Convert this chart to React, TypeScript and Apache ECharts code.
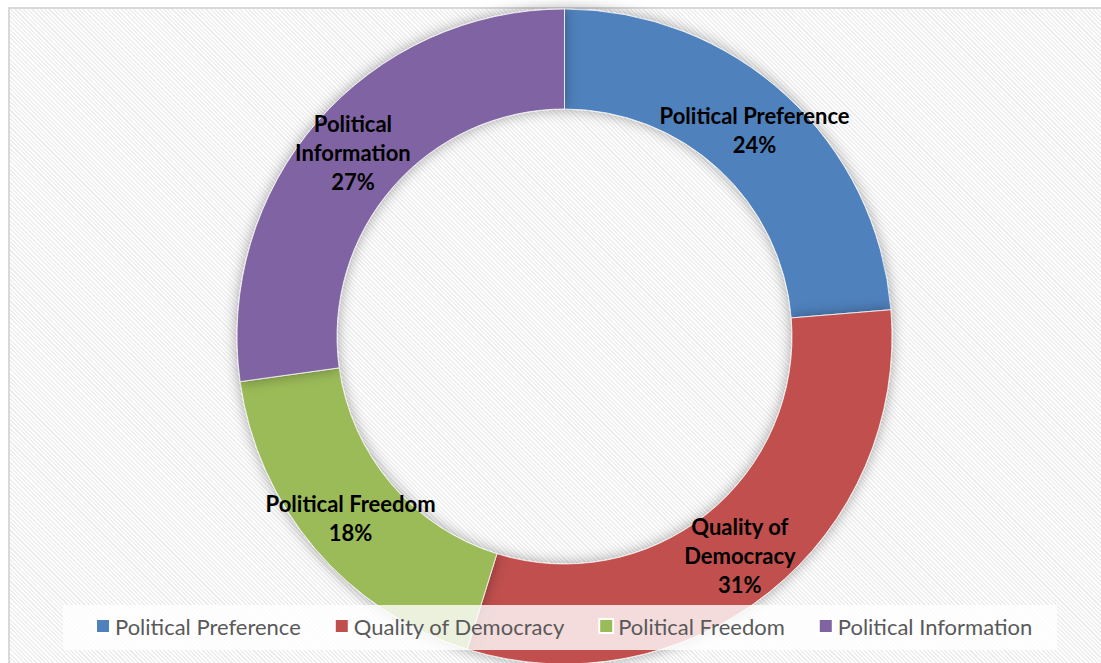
import React, { useEffect, useRef } from "react";
import * as echarts from "echarts";

const categories = [
  "Political Preference",
  "Quality of Democracy",
  "Political Freedom",
  "Political Information",
];
const labelNames = [
  "Political Preference",
  "Quality of\nDemocracy",
  "Political Freedom",
  "Political\nInformation",
];
const shares = [23.7, 31.1, 18.0, 27.2];
const colors = ["#4f81bd", "#c0504d", "#9bbb59", "#8064a2"];

const FONT = "Lato, 'Noto Sans', sans-serif";

export default function App() {
  const ref = useRef<HTMLDivElement>(null);
  useEffect(() => {
    const chart = echarts.init(ref.current!, null, { renderer: "svg" });
    chart.setOption({
      animation: false,
      color: colors,
      graphic: [
        {
          type: "rect",
          z: 3,
          silent: true,
          shape: { x: 63, y: 605, width: 994, height: 45 },
          style: { fill: "rgba(255,255,255,0.8)" },
        },
      ],
      legend: {
        z: 4,
        left: 95,
        top: 615,
        padding: 0,
        icon: "rect",
        itemWidth: 14,
        itemHeight: 14,
        itemGap: 33,
        data: categories,
        textStyle: { fontSize: 22, color: "#595959", fontFamily: FONT },
      },
      series: [
        {
          type: "pie",
          center: [564.5, 336.5],
          radius: [227.5, 327.5],
          startAngle: 90,
          clockwise: true,
          avoidLabelOverlap: false,
          itemStyle: {
            borderColor: "#ffffff",
            borderWidth: 0.75,
            shadowBlur: 14,
            shadowColor: "rgba(0,0,0,0.35)",
          },
          label: {
            show: true,
            position: "inside",
            color: "#000",
            fontWeight: "bold",
            fontSize: 22,
            lineHeight: 29,
            fontFamily: FONT,
            formatter: (p: any) =>
              labelNames[p.dataIndex] + "\n" + Math.round(p.value) + "%",
          },
          labelLine: { show: false },
          emphasis: { disabled: true },
          data: categories.map((name, i) => ({ name, value: shares[i] })),
        },
      ],
    });
    return () => chart.dispose();
  }, []);

  return (
    <div style={{ position: "fixed", inset: 0, background: "#fff", overflow: "hidden" }}>
      <div
        style={{
          position: "absolute",
          left: 8,
          top: 7,
          width: 1200,
          height: 800,
          borderLeft: "2px solid #d9d9d9",
          borderTop: "2px solid #d9d9d9",
          background:
            "repeating-linear-gradient(45deg, #ffffff 0px, #ffffff 1.5px, #eeeeee 1.5px, #eeeeee 3px)",
        }}
      />
      <div
        ref={ref}
        style={{ position: "absolute", left: 0, top: 0, width: 1101, height: 663 }}
      />
    </div>
  );
}
